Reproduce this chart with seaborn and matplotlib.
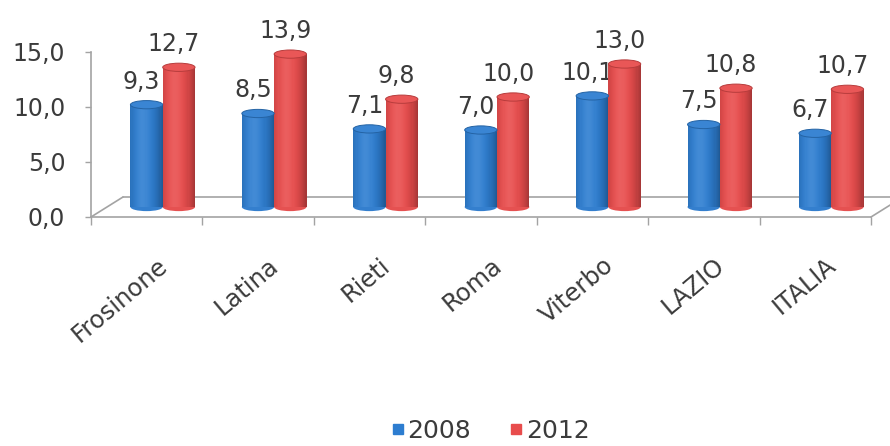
import numpy as np
import pandas as pd
import matplotlib
matplotlib.use("Agg")
import matplotlib.pyplot as plt
import matplotlib.transforms as mtransforms
from matplotlib.patches import Ellipse, Rectangle
from matplotlib.lines import Line2D
from matplotlib.colors import to_rgb
import seaborn as sns

# ---- data -------------------------------------------------------------
categories = ["Frosinone", "Latina", "Rieti", "Roma", "Viterbo", "LAZIO", "ITALIA"]
values_2008 = [9.3, 8.5, 7.1, 7.0, 10.1, 7.5, 6.7]
values_2012 = [12.7, 13.9, 9.8, 10.0, 13.0, 10.8, 10.7]
years = ["2008", "2012"]
y_ticks = [0, 5, 10, 15]

palette = {"2008": "#2d7dd0", "2012": "#e84c4c"}

df = pd.DataFrame({
    "area": categories * 2,
    "year": [years[0]] * len(categories) + [years[1]] * len(categories),
    "value": values_2008 + values_2012,
})

sns.set_theme(style="white")
plt.rcParams["font.family"] = ["DejaVu Sans"]
text_color = "#3b3b3b"
axis_color = "#a3a3a3"
FS = 17

W, H, DPI = 890, 446, 100
fig = plt.figure(figsize=(W / DPI, H / DPI), dpi=DPI)
ax = fig.add_axes([91 / W, 1 - 217 / H, 780 / W, 165 / H])

sns.barplot(data=df, x="area", y="value", hue="year", order=categories,
            hue_order=years, palette=palette, width=0.58, saturation=1,
            legend=False, ax=ax)

ax.set_xlim(-0.5, len(categories) - 0.5)
ax.set_ylim(0, 15)

# bars stand halfway into the floor: shift them back/up a little
depth = mtransforms.ScaledTranslation(16 / DPI, 10 / DPI, fig.dpi_scale_trans)
bar_tr = ax.transData + depth
cap_h = 0.75  # height of the elliptical cap, in value units


def shade(rgb, t):
    """Cylinder shading across the bar width (t from 0 to 1)."""
    base = np.array(rgb)
    light = np.exp(-((t - 0.38) / 0.22) ** 2) * 0.10
    dark = (abs(t - 0.4) / 0.6) ** 2.5 * 0.30
    c = base * (1 - dark)
    c = c + (1 - c) * light
    return np.clip(c, 0, 1)


n_strips = 30
for cont, year, vals in zip(ax.containers, years, [values_2008, values_2012]):
    rgb = to_rgb(palette[year])
    for rect, v in zip(cont, vals):
        x0, w, h = rect.get_x(), rect.get_width(), rect.get_height()
        cx = x0 + w / 2
        rect.set_transform(bar_tr)
        rect.set_facecolor(shade(rgb, 1.0))
        rect.set_edgecolor("none")
        rect.set_zorder(2)
        rect.set_clip_on(False)
        # rounded bottom
        ax.add_patch(Ellipse((cx, 0), w, cap_h, transform=bar_tr,
                             facecolor=shade(rgb, 0.6), edgecolor="none",
                             zorder=1.9, clip_on=False))
        # shaded body
        sw = w / n_strips
        for i in range(n_strips):
            t = (i + 0.5) / n_strips
            ax.add_patch(Rectangle((x0 + i * sw, 0), sw * 1.08, h,
                                   transform=bar_tr, facecolor=shade(rgb, t),
                                   edgecolor="none", linewidth=0, zorder=2.1,
                                   clip_on=False))
        # top cap
        top_c = np.clip(np.array(rgb) + (1 - np.array(rgb)) * 0.06, 0, 1)
        ax.add_patch(Ellipse((cx, h), w, cap_h, transform=bar_tr,
                             facecolor=top_c, edgecolor=shade(rgb, 0.92),
                             linewidth=0.7, zorder=3, clip_on=False))
        # value label (sits behind the neighbouring cylinder)
        ax.annotate(f"{v:.1f}".replace(".", ","), xy=(cx, v), xycoords=bar_tr,
                    xytext=(-5, 16), textcoords="offset pixels",
                    ha="center", va="baseline", fontsize=FS,
                    color=text_color, zorder=2.05)

# ---- axes styling -----------------------------------------------------
for side in ["top", "right"]:
    ax.spines[side].set_visible(False)
for side in ["left", "bottom"]:
    ax.spines[side].set_color(axis_color)
    ax.spines[side].set_linewidth(1.2)

ax.set_yticks(y_ticks)
ax.set_yticklabels([f"{t:.1f}".replace(".", ",") for t in y_ticks])
ax.tick_params(axis="y", left=True, direction="out", length=4.5, width=1,
               color=axis_color, labelsize=FS, labelcolor=text_color, pad=14)

ax.set_xticks(range(len(categories)))
ax.set_xticklabels([])
ax.set_xticks(np.arange(-0.5, len(categories), 1.0), minor=True)
ax.tick_params(axis="x", which="major", bottom=False, length=0)
ax.tick_params(axis="x", which="minor", bottom=True, direction="out",
               length=6, width=1, color=axis_color)
ax.set_xlabel("")
ax.set_ylabel("")

label_tr = (mtransforms.blended_transform_factory(ax.transData, ax.transAxes)
            + mtransforms.ScaledTranslation(10 / DPI, -36 / DPI, fig.dpi_scale_trans))
for i, name in enumerate(categories):
    ax.text(i, 0, name, transform=label_tr, rotation=40, rotation_mode="anchor",
            ha="right", va="top", fontsize=17.5, color=text_color, clip_on=False)

# ---- 3-D floor outline ------------------------------------------------
pos = ax.get_position()
ddx, ddy = 32 / W, 20 / H
floor_lines = [
    [(pos.x0 + ddx, pos.y0 + ddy), (pos.x1 + ddx, pos.y0 + ddy)],
    [(pos.x0, pos.y0), (pos.x0 + ddx, pos.y0 + ddy)],
    [(pos.x1, pos.y0), (pos.x1 + ddx, pos.y0 + ddy)],
]
for (xa, ya), (xb, yb) in floor_lines:
    ax.add_line(Line2D([xa, xb], [ya, yb], transform=fig.transFigure,
                       color=axis_color, linewidth=1.2, clip_on=False, zorder=0.5))

# ---- legend -----------------------------------------------------------
handles = [Line2D([], [], marker="s", linestyle="", markersize=7.5,
                  color=palette[y]) for y in years]
fig.legend(handles, years, loc="center", bbox_to_anchor=(490 / W, 1 - 431 / H),
           ncol=2, frameon=False, fontsize=18, handletextpad=0.1,
           columnspacing=1.5, handlelength=0.6, labelcolor=text_color)

fig.savefig("out.png", dpi=DPI)
